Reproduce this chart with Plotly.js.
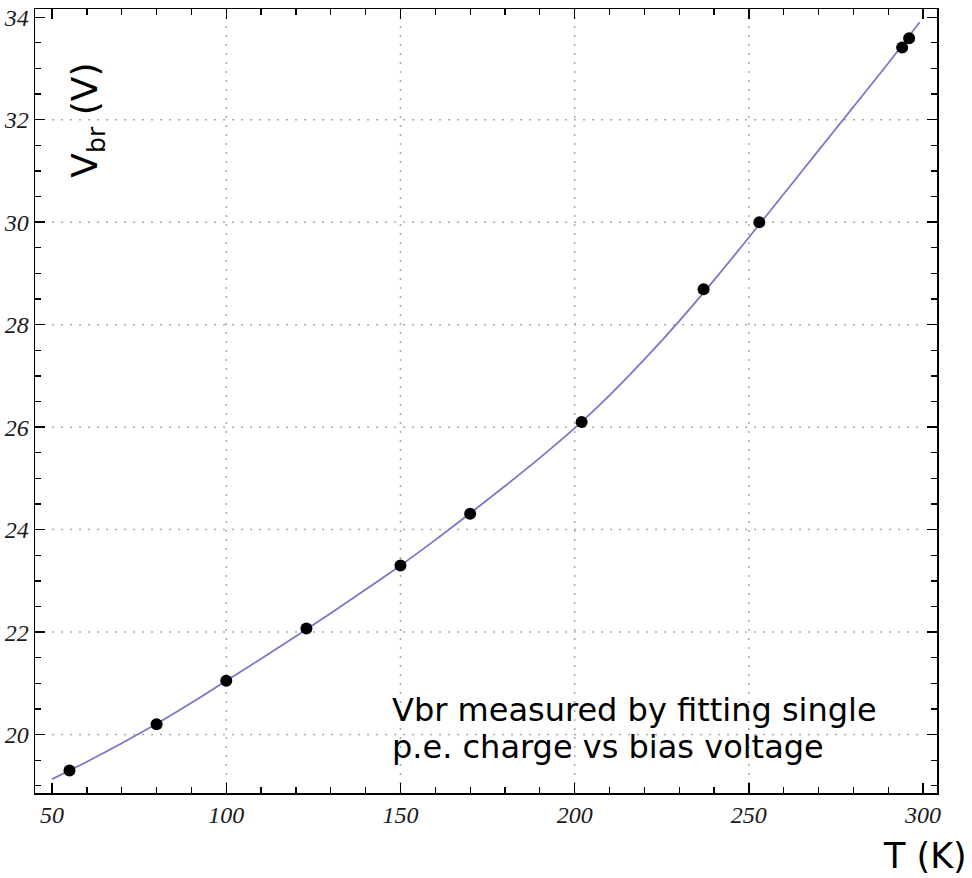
<!DOCTYPE html>
<html>
<head>
<meta charset="utf-8">
<script src="https://cdn.plot.ly/plotly-3.0.1.min.js"></script>
<style>html,body{margin:0;padding:0;background:#fff;}#chart{width:972px;height:878px;}</style>
</head>
<body>
<div id="chart"></div>
<script>
// Measured points
const tempK = [55, 80, 100, 123, 150, 170, 202, 237, 253, 294, 296];
const vbr = [19.3, 20.2, 21.05, 22.07, 23.3, 24.31, 26.1, 28.69, 30.0, 33.41, 33.59];
// Fit curve
const fitT = [50, 60, 70, 80, 90, 100, 110, 120, 130, 140, 150, 160, 170, 180, 190, 200, 210, 220, 230, 240, 250, 260, 270, 280, 290, 299];
const fitV = [19.13, 19.47, 19.83, 20.21, 20.62, 21.05, 21.48, 21.92, 22.37, 22.83, 23.30, 23.80, 24.32, 24.85, 25.40, 25.98, 26.62, 27.32, 28.07, 28.87, 29.70, 30.55, 31.40, 32.25, 33.10, 33.90];
const xTicks = [50, 100, 150, 200, 250, 300];
const yTicks = [20, 22, 24, 26, 28, 30, 32, 34];
const xGrid = [100, 150, 200, 250];
const yGrid = [20, 22, 24, 26, 28, 30, 32];

const tickFont = {family: 'Liberation Serif', size: 24, color: '#1a1a1a', style: 'italic'};

const traces = [
  {x: fitT, y: fitV, mode: 'lines', line: {color: '#7878c8', width: 1.8, shape: 'spline'}, hoverinfo: 'skip'},
  {x: tempK, y: vbr, mode: 'markers', marker: {color: '#000', size: 12}}
];

const axisCommon = {
  showline: true, mirror: 'allticks', linecolor: '#000', linewidth: 1.5,
  ticks: 'inside', ticklen: 10, tickwidth: 1.4, tickcolor: '#000',
  showgrid: false, zeroline: false, tickfont: tickFont, tickmode: 'array'
};

const gridLine = {color: '#a8a8a8', width: 1.5, dash: '2px,7px'};
const shapes = [];
xGrid.forEach(v => shapes.push({type: 'line', xref: 'x', yref: 'paper', x0: v, x1: v, y0: 0, y1: 1, line: gridLine, layer: 'below'}));
yGrid.forEach(v => shapes.push({type: 'line', xref: 'x', yref: 'y', x0: xTicks[0], x1: xTicks[xTicks.length - 1], y0: v, y1: v, line: gridLine, layer: 'below'}));

const layout = {
  width: 972, height: 878,
  margin: {l: 35, r: 35, t: 9, b: 85},
  paper_bgcolor: '#fff', plot_bgcolor: '#fff',
  showlegend: false,
  shapes: shapes,
  xaxis: Object.assign({}, axisCommon, {
    range: [45.1, 304], tickvals: xTicks, ticktext: xTicks.map(String),
    minor: {dtick: 10, tick0: 50, ticks: 'inside', ticklen: 6, tickwidth: 1.3, tickcolor: '#000', showgrid: false}
  }),
  yaxis: Object.assign({}, axisCommon, {
    range: [18.86, 34.16], tickvals: yTicks, ticktext: yTicks.map(String),
    minor: {dtick: 0.5, tick0: 20, ticks: 'inside', ticklen: 6, tickwidth: 1.3, tickcolor: '#000', showgrid: false}
  }),
  annotations: [
    {xref: 'paper', yref: 'paper', x: 0.058, y: 0.858, text: 'V<sub>br</sub> (V)', showarrow: false,
     textangle: -90, font: {family: 'DejaVu Sans', size: 36, color: '#000'}, xanchor: 'center', yanchor: 'middle'},
    {xref: 'paper', yref: 'paper', x: 1.036, y: -0.08, text: 'T (K)', showarrow: false,
     font: {family: 'DejaVu Sans', size: 35, color: '#000'}, xanchor: 'right', yanchor: 'middle'},
    {xref: 'paper', yref: 'paper', x: 0.3936, y: 0.106, text: 'Vbr measured by fitting single',
     showarrow: false, align: 'left', xanchor: 'left', yanchor: 'middle',
     font: {family: 'DejaVu Sans', size: 32, color: '#000'}},
    {xref: 'paper', yref: 'paper', x: 0.3936, y: 0.0587, text: 'p.e. charge vs bias voltage',
     showarrow: false, align: 'left', xanchor: 'left', yanchor: 'middle',
     font: {family: 'DejaVu Sans', size: 32, color: '#000'}}
  ]
};

Plotly.newPlot('chart', traces, layout, {displayModeBar: false, staticPlot: true});
</script>
</body>
</html>
